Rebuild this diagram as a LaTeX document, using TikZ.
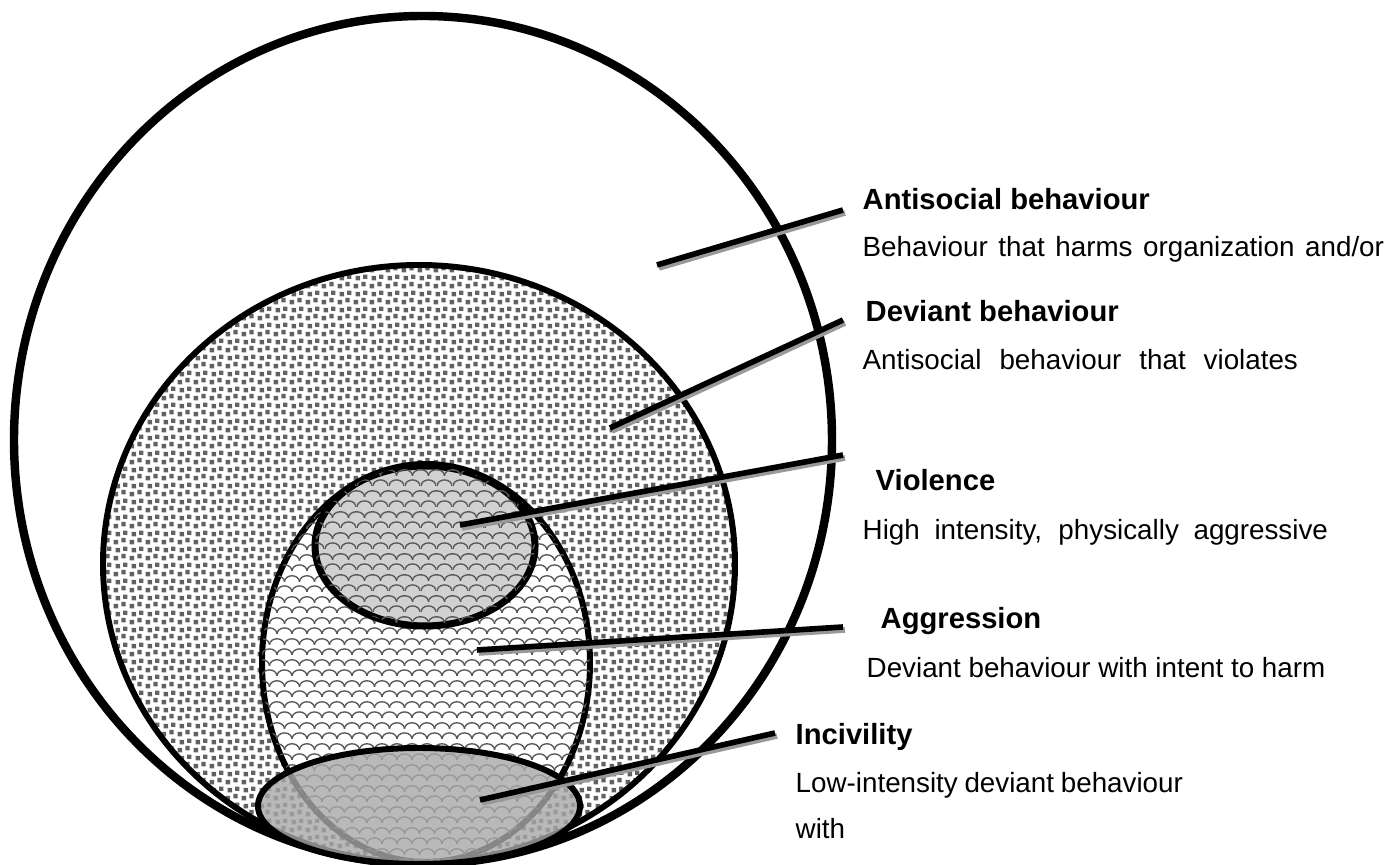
\documentclass[tikz,border=0pt]{standalone}
\usepackage{fontspec}
\setmainfont{Liberation Sans}
\usetikzlibrary{patterns.meta}

\tikzdeclarepattern{
  name=specks,
  type=uncolored,
  bottom left={(0pt,0pt)},
  top right={(4.6pt,4.6pt)},
  tile size={(4.6pt,4.6pt)},
  code={
    \fill (0.2pt,0.2pt) rectangle (1.5pt,1.5pt);
    \fill (2.5pt,0.8pt) rectangle (3.8pt,2.1pt);
    \fill (0.8pt,2.6pt) rectangle (2.1pt,3.9pt);
    \fill (3.0pt,3.0pt) rectangle (4.3pt,4.3pt);
  }
}
\tikzdeclarepattern{
  name=scales,
  type=uncolored,
  bottom left={(0pt,0pt)},
  top right={(4.4pt,6pt)},
  tile size={(4.4pt,6pt)},
  code={
    \draw[line width=0.4pt] (0pt,0pt) arc[start angle=180, end angle=0, x radius=2.2pt, y radius=1.8pt];
    \draw[line width=0.4pt] (-2.2pt,3pt) arc[start angle=180, end angle=0, x radius=2.2pt, y radius=1.8pt];
    \draw[line width=0.4pt] (2.2pt,3pt) arc[start angle=180, end angle=0, x radius=2.2pt, y radius=1.8pt];
  }
}

\tikzset{
  title/.style={anchor=base west, inner sep=0pt, font=\fontsize{8.3}{10}\selectfont\bfseries},
  desc/.style={anchor=base west, inner sep=0pt, font=\fontsize{7.9}{9.5}\selectfont},
  leader/.style={line width=1.6pt, black},
  leader shadow/.style={line width=1.6pt, black!40},
}

\begin{document}
\begin{tikzpicture}[x=0.01cm, y=-0.01cm]
    \useasboundingbox (0,0) rectangle (1385,865);

    % Antisocial behaviour
    \draw[line width=2.4pt, fill=white] (423,440) ellipse [x radius=409, y radius=424];

    % Deviant behaviour
    \draw[line width=1.7pt, pattern={specks}, pattern color=black!62] (419,564) ellipse [x radius=316, y radius=299];

    % Aggression
    \draw[line width=1.7pt, fill=white, postaction={pattern={scales}, pattern color=black!65}] (426,663) ellipse [x radius=164, y radius=199];

    % Violence
    \draw[line width=2pt, fill=black!18, postaction={pattern={scales}, pattern color=black!65}] (425,546) ellipse [x radius=110, y radius=80];

    % Incivility
    \draw[line width=1.7pt, fill=black!34, fill opacity=0.8] (419,806) ellipse [x radius=161, y radius=58];

    % Leader ends
    \coordinate (asb-in) at (657,265);
    \coordinate (asb-out) at (843,210);
    \coordinate (dvb-in) at (610,428);
    \coordinate (dvb-out) at (843,320);
    \coordinate (vio-in) at (460,525);
    \coordinate (vio-out) at (843,455);
    \coordinate (agg-in) at (477,650);
    \coordinate (agg-out) at (843,627);
    \coordinate (inc-in) at (480,800);
    \coordinate (inc-out) at (775,733);

    % Leaders
    \foreach \from/\to in {asb-in/asb-out, dvb-in/dvb-out, vio-in/vio-out, agg-in/agg-out, inc-in/inc-out} {
        \draw[leader shadow] ([shift={(2,3)}]\from) -- ([shift={(2,3)}]\to);
        \draw[leader] (\from) -- (\to);
    }

    % Labels
    \node[title] (asb-title) at (862,210) {Antisocial behaviour};
    \node[desc] (asb-text) at (862,257) {\makebox[5.21cm][s]{Behaviour that harms organization and/or}};

    \node[title] (dvb-title) at (865,322) {Deviant behaviour};
    \node[desc] (dvb-text) at (862,370) {\makebox[4.35cm][s]{Antisocial behaviour that violates}};

    \node[title] (vio-title) at (875,491) {Violence};
    \node[desc] (vio-text) at (862,540) {\makebox[4.65cm][s]{High intensity, physically aggressive}};

    \node[title] (agg-title) at (880,629) {Aggression};
    \node[desc] (agg-text) at (866,678) {Deviant behaviour with intent to harm};

    \node[title] (inc-title) at (795,745) {Incivility};
    \node[desc] (inc-text) at (795,793) {\makebox[3.87cm][s]{Low-intensity deviant behaviour}};
    \node[desc] (inc-more) at (795,839) {with};
\end{tikzpicture}
\end{document}
